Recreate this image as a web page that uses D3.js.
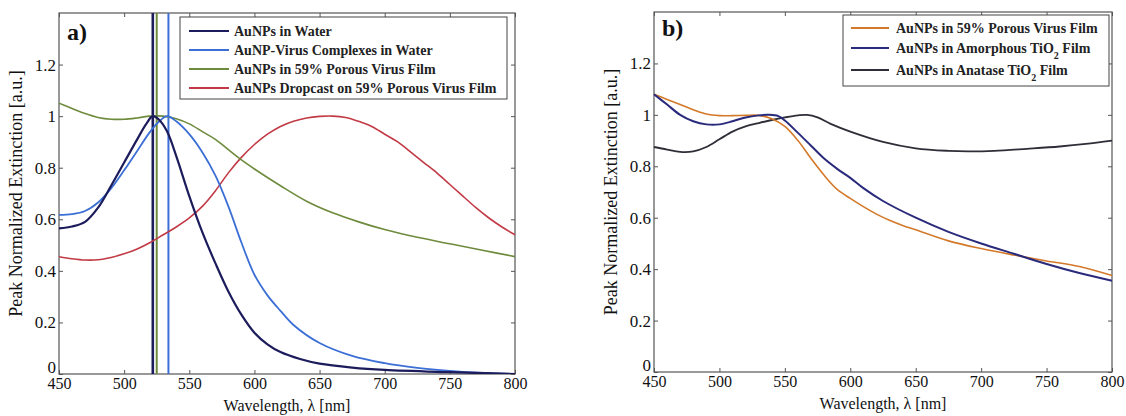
<!DOCTYPE html>
<html><head><meta charset="utf-8">
<script src="https://cdn.jsdelivr.net/npm/d3@7"></script>
<style>body{margin:0;background:#fff}svg{display:block}</style>
</head><body>
<svg id="c" width="1126" height="416"></svg>
<script>
// ---- data (panel a) ----
const waterWl   = [450,460,470,480,490,500,510,517,522,527,533,540,550,560,570,580,590,600,610,620,635,650,675,700,750,800];
const waterVal  = [0.565,0.572,0.59,0.645,0.73,0.82,0.91,0.97,1.0,0.985,0.94,0.845,0.69,0.55,0.43,0.32,0.23,0.16,0.115,0.085,0.058,0.04,0.025,0.016,0.007,0.0];
const virusWl   = [450,460,470,480,490,500,510,520,527,533,540,550,560,570,580,590,600,610,620,630,650,675,700,725,750,775,800];
const virusVal  = [0.617,0.62,0.632,0.665,0.72,0.79,0.865,0.94,0.98,1.0,0.98,0.93,0.86,0.77,0.65,0.51,0.385,0.305,0.245,0.19,0.12,0.07,0.042,0.024,0.012,0.004,0.0];
const filmWl    = [450,460,470,480,490,500,510,520,530,540,550,560,570,580,590,600,620,640,660,680,700,725,750,775,800];
const filmVal   = [1.05,1.03,1.01,0.995,0.988,0.988,0.993,1.0,1.0,0.99,0.97,0.94,0.91,0.87,0.83,0.795,0.73,0.67,0.625,0.59,0.56,0.53,0.505,0.48,0.455];
const dropWl    = [450,460,470,480,490,500,510,520,530,540,550,560,570,580,590,600,610,620,630,640,650,660,670,680,690,700,710,720,730,740,750,760,770,780,790,800];
const dropVal   = [0.455,0.447,0.442,0.443,0.452,0.466,0.485,0.51,0.54,0.57,0.605,0.65,0.71,0.78,0.84,0.89,0.93,0.96,0.98,0.993,0.999,1.0,0.995,0.98,0.96,0.93,0.9,0.86,0.82,0.78,0.735,0.69,0.645,0.605,0.57,0.54];
const peakWl    = [522, 525, 534];   // vertical peak markers: water, film, virus
// ---- data (panel b) ----
const porousWl  = [450,460,470,480,490,500,510,520,530,540,550,560,570,580,590,600,610,620,630,640,650,675,700,725,750,775,800];
const porousVal = [1.08,1.06,1.04,1.02,1.003,0.997,0.997,0.998,0.998,0.985,0.955,0.90,0.83,0.765,0.71,0.675,0.643,0.614,0.59,0.57,0.553,0.51,0.48,0.455,0.432,0.41,0.375];
const amorWl    = [450,460,470,480,490,500,510,520,530,538,545,550,560,570,580,590,600,610,625,650,675,700,725,750,775,800];
const amorVal   = [1.08,1.04,1.0,0.975,0.963,0.963,0.975,0.99,0.998,1.0,0.995,0.978,0.93,0.88,0.83,0.79,0.755,0.715,0.665,0.60,0.545,0.50,0.46,0.42,0.385,0.355];
const anatWl    = [450,460,470,480,490,500,510,520,530,540,550,560,567,575,585,600,625,650,675,690,710,735,760,780,800];
const anatVal   = [0.875,0.865,0.856,0.858,0.875,0.905,0.935,0.955,0.968,0.98,0.99,0.998,1.0,0.99,0.965,0.935,0.895,0.87,0.86,0.858,0.86,0.868,0.877,0.887,0.9];
// ---- ticks / labels ----
const xTicks = [450,500,550,600,650,700,750,800];
const yTicks = [0,0.2,0.4,0.6,0.8,1,1.2];
const legendA = ["AuNPs in Water","AuNP-Virus Complexes in Water","AuNPs in 59% Porous Virus Film","AuNPs Dropcast on 59% Porous Virus Film"];
const colorsA = ["#1c1c5c","#3b6fd6","#6e8b3d","#c23a45"];
const colorsB = ["#d4792a","#2a2a7c","#2e2e38"];

const svg = d3.select("#c");
const FONT = "'Liberation Serif', 'DejaVu Serif', serif";

function panel(o){
  const x = d3.scaleLinear().domain([450,800]).range([o.l,o.r]);
  const y = d3.scaleLinear().domain([0,1.4]).range([o.b,o.t]);
  const g = svg.append("g");
  g.append("rect").attr("x",o.l).attr("y",o.t).attr("width",o.r-o.l).attr("height",o.b-o.t)
    .attr("fill","none").attr("stroke","#555").attr("stroke-width",1.2);
  const ax = g.append("g").attr("transform",`translate(0,${o.b})`)
    .call(d3.axisBottom(x).tickValues(xTicks).tickSize(-4).tickPadding(4).tickFormat(d3.format("d")));
  const axT = g.append("g").attr("transform",`translate(0,${o.t})`)
    .call(d3.axisTop(x).tickValues(xTicks).tickSize(-4).tickFormat(""));
  const ay = g.append("g").attr("transform",`translate(${o.l},0)`)
    .call(d3.axisLeft(y).tickValues(yTicks).tickSize(-4).tickPadding(3).tickFormat(d=>d===0?"0":d3.format("~g")(d)));
  const ayR = g.append("g").attr("transform",`translate(${o.r},0)`)
    .call(d3.axisRight(y).tickValues(yTicks).tickSize(-4).tickFormat(""));
  [ax,axT,ay,ayR].forEach(a=>{a.select(".domain").remove();a.selectAll("line").attr("stroke","#555");});
  ax.selectAll("text").attr("font-family",FONT).attr("font-size",16).attr("fill","#111");
  ay.selectAll("text").attr("font-family",FONT).attr("font-size",17).attr("fill","#111");
  ay.selectAll(".tick").filter(d=>d===0).select("text").attr("dy","-0.1em");
  g.append("text").attr("x",(o.l+o.r)/2).attr("y",o.b+37).attr("text-anchor","middle")
    .attr("font-family",FONT).attr("font-size",16).attr("fill","#111").text("Wavelength, λ [nm]");
  g.append("text").attr("transform",`translate(${o.l-37},${(o.t+o.b)/2}) rotate(-90)`).attr("text-anchor","middle")
    .attr("font-family",FONT).attr("font-size",18).attr("fill","#111").text("Peak Normalized Extinction [a.u.]");
  g.append("text").attr("x",o.l+8).attr("y",o.t+o.ly).attr("font-family",FONT).attr("font-weight","bold")
    .attr("font-size",24).attr("fill","#111").text(o.label);
  return {x,y,g};
}

const A = panel({l:59,r:515,t:13,b:374,label:"a)",ly:27});
const B = panel({l:654,r:1112,t:12,b:372,label:"b)",ly:24});

function drawLine(P, wl, vals, col, w){
  const line = d3.line().x(d=>P.x(d[0])).y(d=>P.y(d[1])).curve(d3.curveCatmullRom.alpha(0.5));
  P.g.append("path").datum(wl.map((v,i)=>[v,vals[i]])).attr("d",line)
    .attr("fill","none").attr("stroke",col).attr("stroke-width",w).attr("stroke-linejoin","round");
}
// panel a
svg.append("clipPath").attr("id","ca").append("rect").attr("x",59).attr("y",13).attr("width",456).attr("height",361);
const gA = A.g.append("g").attr("clip-path","url(#ca)");
const PA = {x:A.x,y:A.y,g:gA};
[[peakWl[0],colorsA[0],2.6],[peakWl[1],colorsA[2],2],[peakWl[2],colorsA[1],2]].forEach(([w,c,sw])=>{
  gA.append("line").attr("x1",A.x(w)).attr("x2",A.x(w)).attr("y1",A.y(0)).attr("y2",A.y(1.4))
    .attr("stroke",c).attr("stroke-width",sw);
});
drawLine(PA, dropWl, dropVal, colorsA[3], 1.6);
drawLine(PA, filmWl, filmVal, colorsA[2], 1.6);
drawLine(PA, virusWl, virusVal, colorsA[1], 1.8);
drawLine(PA, waterWl, waterVal, colorsA[0], 2.2);
// panel b
const gB = B.g.append("g");
const PB = {x:B.x,y:B.y,g:gB};
drawLine(PB, anatWl, anatVal, colorsB[2], 1.8);
drawLine(PB, porousWl, porousVal, colorsB[0], 1.6);
drawLine(PB, amorWl, amorVal, colorsB[1], 2.0);

function legend(x0,y0,w,h,rows,items,cols,lineX,lineLen,textX){
  const g = svg.append("g");
  g.append("rect").attr("x",x0).attr("y",y0).attr("width",w).attr("height",h).attr("fill","#fff").attr("stroke","#444").attr("stroke-width",1);
  items.forEach((t,i)=>{
    const yy = rows[i];
    g.append("line").attr("x1",lineX).attr("x2",lineX+lineLen).attr("y1",yy).attr("y2",yy).attr("stroke",cols[i]).attr("stroke-width",2);
    const tx = g.append("text").attr("x",textX).attr("y",yy).attr("dy","0.35em")
      .attr("font-family",FONT).attr("font-weight","bold").attr("font-size",14).attr("fill","#222");
    if (typeof t === "string") tx.text(t);
    else { t.forEach(p=>{ const s = tx.append("tspan").text(p[0]); if(p[1]) s.attr("baseline-shift","sub").attr("font-size",10);}); }
  });
}
legend(180,17,327,82,[31,50,69,88],legendA,colorsA,189,40,234);
const legendB = ["AuNPs in 59% Porous Virus Film",
  [["AuNPs in Amorphous TiO"],["2",true],[" Film"]],
  [["AuNPs in Anatase TiO"],["2",true],[" Film"]]];
legend(843,15,266,71,[28,48,70],legendB,colorsB,851,38,896);
</script>
</body></html>
